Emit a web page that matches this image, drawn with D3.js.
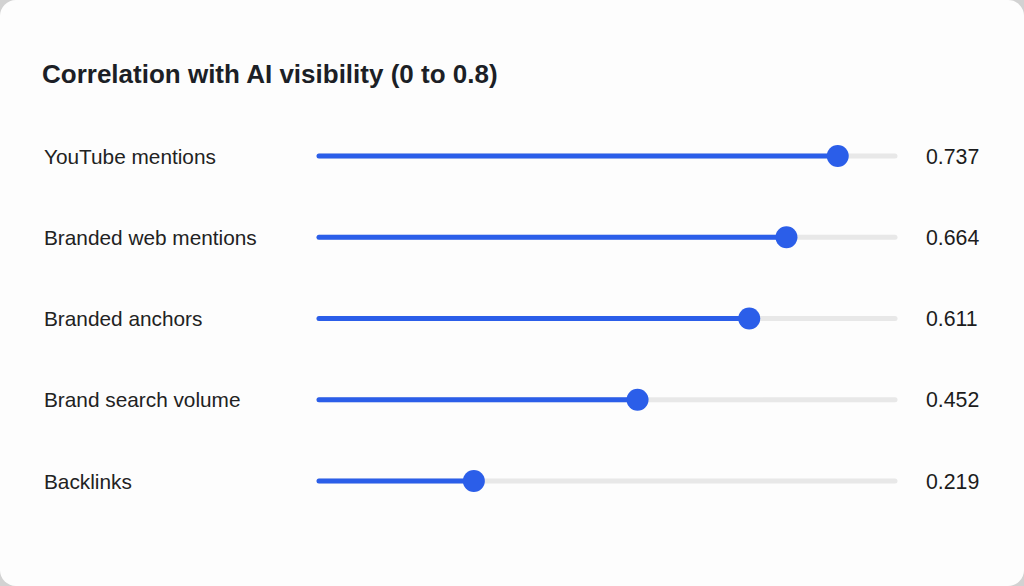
<!DOCTYPE html>
<html lang="en">
<head>
    <meta charset="UTF-8">
    <title>Correlation with AI visibility</title>
    <style>
        html, body {
            margin: 0;
            padding: 0;
            background: #d2d2d2;
        }
        text {
            font-family: "Liberation Sans", Arial, Helvetica, sans-serif;
        }
    </style>
</head>
<body>
    <div id="wrapper"></div>

    <script src="https://d3js.org/d3.v7.min.js"></script>
    <script>
        // data
        const titleText = 'Correlation with AI visibility (0 to 0.8)';
        const categories = ['YouTube mentions', 'Branded web mentions', 'Branded anchors', 'Brand search volume', 'Backlinks'];
        const values = [0.737, 0.664, 0.611, 0.452, 0.219];
        const valueLabels = ['0.737', '0.664', '0.611', '0.452', '0.219'];
        const domainMax = 0.8;

        const width = 1024,
            height = 586;

        const svg = d3.select('#wrapper').append('svg')
            .attr('width', width)
            .attr('height', height)
            .style('display', 'block');

        // card
        svg.append('rect')
            .attr('x', 0)
            .attr('y', 0)
            .attr('width', width)
            .attr('height', height)
            .attr('rx', 16)
            .attr('fill', '#fdfdfd');

        svg.append('text')
            .attr('x', 42)
            .attr('y', 83)
            .attr('font-size', 26)
            .attr('font-weight', 'bold')
            .attr('fill', '#1c1f26')
            .text(titleText);

        // scales
        const xScale = d3.scaleLinear()
            .domain([0, domainMax])
            .range([320, 882]);
        const trackEnd = 895;

        const yScale = d3.scalePoint()
            .domain(categories)
            .range([156, 481]);

        const rows = categories.map((c, i) => ({ name: c, value: values[i], label: valueLabels[i] }));

        const row = svg.append('g')
            .selectAll('g')
            .data(rows)
            .join('g')
            .attr('transform', d => `translate(0, ${yScale(d.name)})`);

        // category label
        row.append('text')
            .attr('x', 44)
            .attr('dy', '0.36em')
            .attr('font-size', 20.8)
            .attr('fill', '#222')
            .text(d => d.name);

        // grey track
        row.append('line')
            .attr('x1', xScale(0) - 1)
            .attr('x2', trackEnd)
            .attr('stroke', '#e8e8e8')
            .attr('stroke-width', 5)
            .attr('stroke-linecap', 'round');

        // blue fill
        row.append('line')
            .attr('x1', xScale(0) - 1)
            .attr('x2', d => xScale(d.value))
            .attr('stroke', '#2b5ee9')
            .attr('stroke-width', 5)
            .attr('stroke-linecap', 'round');

        // dot
        row.append('circle')
            .attr('cx', d => xScale(d.value))
            .attr('r', 11)
            .attr('fill', '#2b5ee9');

        // value label
        row.append('text')
            .attr('x', 926)
            .attr('dy', '0.36em')
            .attr('font-size', 21.3)
            .attr('fill', '#1c1c1c')
            .text(d => d.label);
    </script>
</body>
</html>
